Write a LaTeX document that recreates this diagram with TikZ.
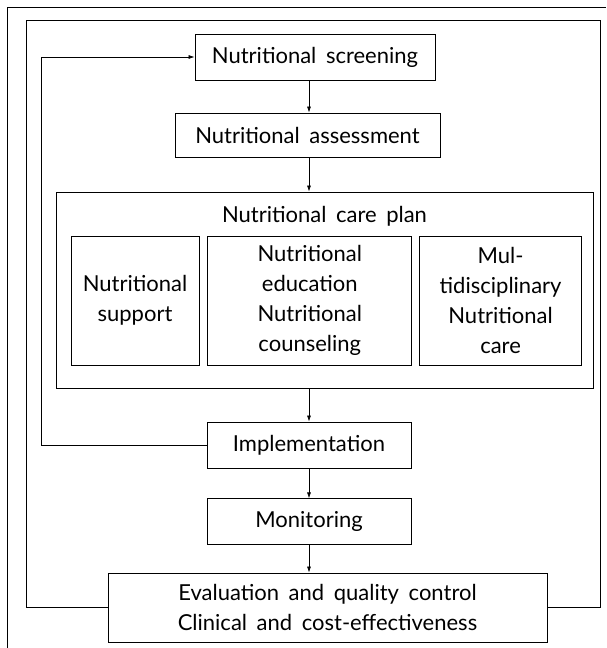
\documentclass[tikz,border=0pt]{standalone}
\usepackage{fontspec}
\setmainfont{Lato}[WordSpace=1.7]
\usepackage{tikz}
\usetikzlibrary{
    positioning,
    arrows.meta
}

\begin{document}
\begin{tikzpicture}[
    x=1pt, y=-1pt,
    every node/.style={font=\fontsize{22}{30}\selectfont},
    stagebox/.style={rectangle, draw=black, line width=0.8pt, align=center, inner sep=0pt},
    planbox/.style={rectangle, draw=black, line width=0.8pt, inner sep=0pt, minimum width=537pt, minimum height=196pt},
    subbox/.style={rectangle, draw=black, line width=0.8pt, align=center, inner sep=0pt, minimum height=129pt},
    arrow/.style={-{Latex[length=6pt, width=4pt]}, line width=0.7pt},
    loopline/.style={line width=0.8pt}
]
\useasboundingbox (0,0) rectangle (606,648);

\node[stagebox, minimum width=240pt, minimum height=46pt] (screening) at (315,57) {Nutritional screening};
\node[stagebox, minimum width=265pt, minimum height=44pt] (assessment) at (307.5,135) {Nutritional assessment};

\node[planbox] (careplan) at (324.5,290) {};
\node (plantitle) at (324.5,216) {Nutritional care plan};
\node[subbox, minimum width=128pt] (support) at (135,300.5) {Nutritional\\support};
\node[subbox, minimum width=204pt, right=8pt of support] (education) {Nutritional\\education\\Nutritional\\counseling};
\node[subbox, minimum width=162pt, right=7pt of education] (multi) {Mul-\\tidisciplinary\\Nutritional\\care};

\node[stagebox, minimum width=204pt, minimum height=46pt] (implementation) at (309,445) {Implementation};
\node[stagebox, minimum width=204pt, minimum height=46pt, below=30pt of implementation] (monitoring) {Monitoring};
\node[stagebox, minimum width=439pt, minimum height=69pt] (evaluation) at (327.5,607.5) {Evaluation and quality control\\Clinical and cost-effectiveness};

\coordinate (outercorner) at (7,7);

% main chain
\draw[arrow] (screening.south -| implementation.north) -- (assessment.north -| implementation.north);
\draw[arrow] (assessment.south -| implementation.north) -- (careplan.north -| implementation.north);
\draw[arrow] (careplan.south -| implementation.north) -- (implementation.north);
\draw[arrow] (implementation) -- (monitoring);
\draw[arrow] (monitoring.south) -- (evaluation.north -| monitoring.south);

% feedback to screening
\draw[arrow] (implementation.west) -| (41,57) -- (screening.west);

% loop round the whole process
\draw[loopline] (evaluation.west) -| (26,20) -| (600,0 |- evaluation.east) -- (evaluation.east);

% outer frame
\draw[loopline] (outercorner |- 0,648) -- (outercorner) -- (606,7);

\end{tikzpicture}
\end{document}
